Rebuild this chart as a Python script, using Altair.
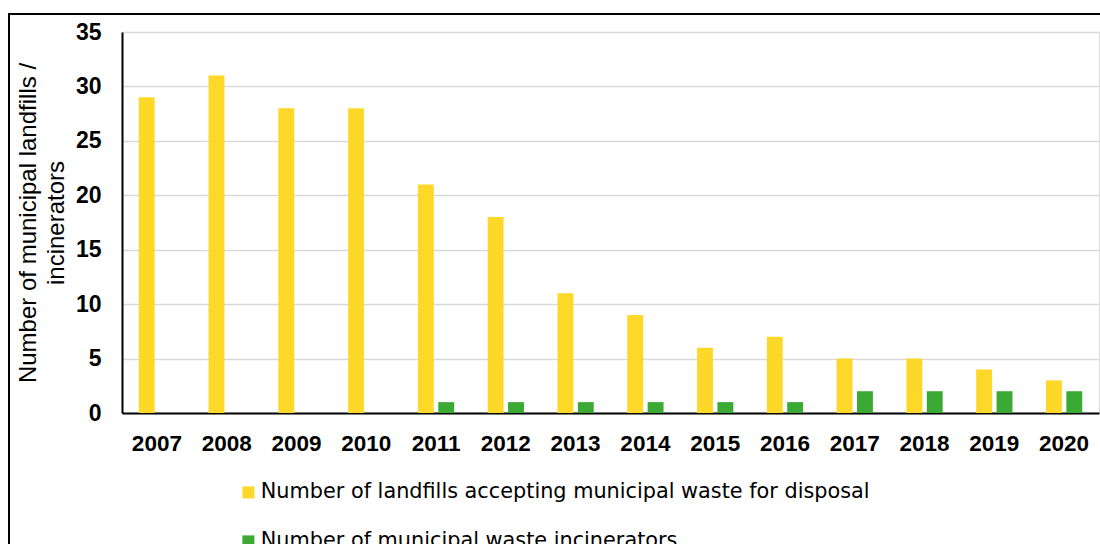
import altair as alt
import pandas as pd

years = ["2007", "2008", "2009", "2010", "2011", "2012", "2013",
         "2014", "2015", "2016", "2017", "2018", "2019", "2020"]
landfills = [29, 31, 28, 28, 21, 18, 11, 9, 6, 7, 5, 5, 4, 3]
incinerators = [0, 0, 0, 0, 1, 1, 1, 1, 1, 1, 2, 2, 2, 2]

series_names = [
    "Number of landfills accepting municipal waste for disposal",
    "Number of municipal waste incinerators",
]
series_colors = ["#FDD828", "#3BAA34"]

rows = []
for i, y in enumerate(years):
    rows.append({"year": y, "series": series_names[0], "value": landfills[i]})
    rows.append({"year": y, "series": series_names[1], "value": incinerators[i]})
df = pd.DataFrame(rows)

bars = alt.Chart(df).mark_bar().encode(
    x=alt.X(
        "year:N",
        sort=years,
        title=None,
        scale=alt.Scale(paddingInner=0.48, paddingOuter=0.24),
        axis=alt.Axis(
            labelAngle=0,
            labelFont="Liberation Sans",
            labelFontWeight="bold",
            labelFontSize=22.5,
            labelColor="#000000",
            labelPadding=19,
            ticks=False,
            domainColor="#000000",
            domainWidth=2,
            grid=False,
        ),
    ),
    xOffset=alt.XOffset(
        "series:N",
        sort=series_names,
        scale=alt.Scale(paddingInner=0.22, paddingOuter=0),
    ),
    y=alt.Y(
        "value:Q",
        scale=alt.Scale(domain=[0, 35], nice=False),
        axis=alt.Axis(
            values=[0, 5, 10, 15, 20, 25, 30, 35],
            title=["Number of municipal landfills /", "incinerators"],
            titleFont="Liberation Sans",
            titleFontSize=24,
            titleFontWeight="normal",
            titleColor="#000000",
            titleLineHeight=28.5,
            titleX=-87,
            titleBaseline="alphabetic",
            titleAlign="center",
            labelFont="Liberation Sans",
            labelFontWeight="bold",
            labelFontSize=23,
            labelColor="#000000",
            labelPadding=21,
            ticks=False,
            domainColor="#000000",
            domainWidth=2,
            gridColor="#D9D9D9",
            gridWidth=1.5,
        ),
    ),
    color=alt.Color(
        "series:N",
        scale=alt.Scale(domain=series_names, range=series_colors),
        legend=alt.Legend(
            title=None,
            orient="none",
            legendX=116,
            legendY=450,
            direction="vertical",
            symbolType="square",
            symbolSize=144,
            symbolStrokeWidth=0,
            symbolOpacity=1,
            labelFont="DejaVu Sans",
            labelFontSize=20.8,
            labelColor="#000000",
            labelOffset=2,
            labelLimit=1000,
            rowPadding=27,
            padding=0,
        ),
    ),
)

# outer frame around the whole figure
frame = alt.Chart(pd.DataFrame({"k": [0]})).mark_rect(
    fillOpacity=0, stroke="#000000", strokeWidth=2
).encode(
    x=alt.value(-113),
    x2=alt.value(1200),
    y=alt.value(-18),
    y2=alt.value(700),
)

chart = alt.layer(frame, bars).properties(
    width=977,
    height=381,
    autosize=alt.AutoSizeParams(type="none"),
    padding={"left": 122, "top": 32, "right": 1, "bottom": 131},
).configure_view(stroke=None).configure(background="#FFFFFF")

chart.save("out.html", embed_options={"renderer": "svg", "actions": False})
